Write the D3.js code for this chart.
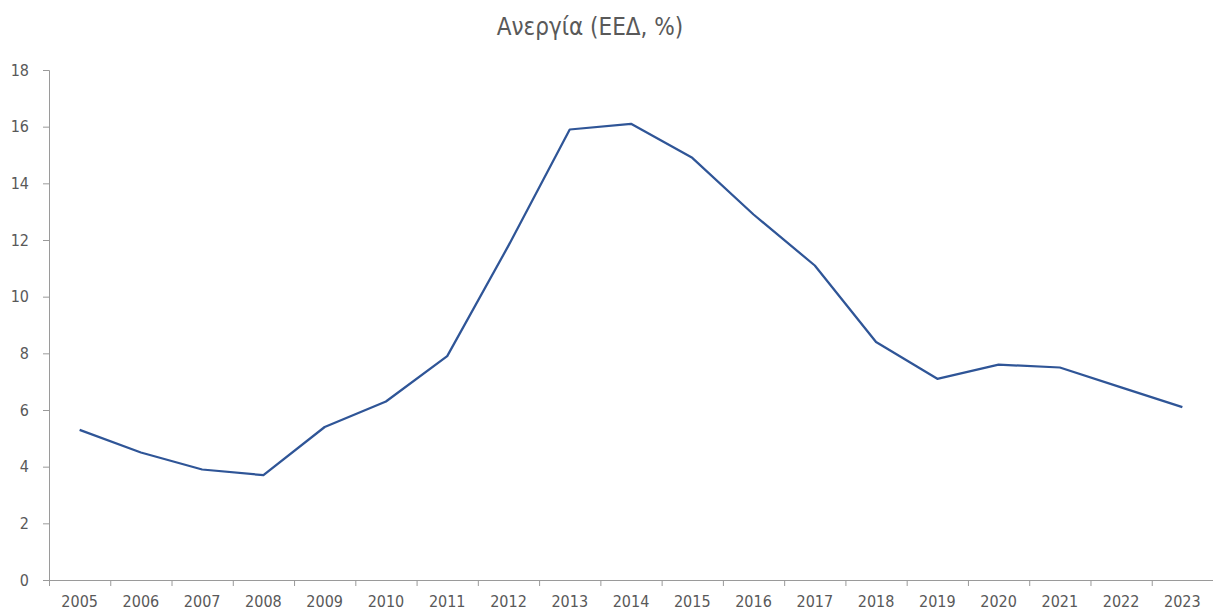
<!DOCTYPE html>
<html>
<head>
<meta charset="utf-8">
<script src="https://cdn.jsdelivr.net/npm/d3@7"></script>
<style>
  body { margin: 0; background: #fff; overflow: hidden; }
  svg { display: block; }
  .axis text { font-family: 'DejaVu Sans Condensed', 'Liberation Sans Narrow', sans-serif; font-size: 16px; fill: #595959; }
  .axis path, .axis line { stroke: #9a9a9a; }
  .chart-title { font-family: 'DejaVu Sans Condensed', sans-serif; font-size: 24px; fill: #595959; }
</style>
</head>
<body>
<div class="chart-container"></div>
<script>
const years = ['2005','2006','2007','2008','2009','2010','2011','2012','2013','2014','2015','2016','2017','2018','2019','2020','2021','2022','2023'];
const unemployment = [5.3, 4.5, 3.9, 3.7, 5.4, 6.3, 7.9, 11.8, 15.9, 16.1, 14.9, 12.9, 11.1, 8.4, 7.1, 7.6, 7.5, 6.8, 6.1];
const yTicks = [0, 2, 4, 6, 8, 10, 12, 14, 16, 18];
const title = 'Ανεργία (ΕΕΔ, %)';

const width = 1213;
const height = 614;
const margin = { top: 70, right: 0, bottom: 34, left: 49 };
const innerWidth = width - margin.left - margin.right;
const innerHeight = height - margin.top - margin.bottom;

const svg = d3.select('.chart-container')
  .append('svg')
  .attr('width', width)
  .attr('height', height);

svg.append('text')
  .attr('class', 'chart-title')
  .attr('x', 590)
  .attr('y', 35)
  .attr('text-anchor', 'middle')
  .text(title);

const g = svg.append('g')
  .attr('transform', `translate(${margin.left},${margin.top})`);

const xScale = d3.scaleBand()
  .domain(years)
  .range([0, innerWidth]);

const yScale = d3.scaleLinear()
  .domain([0, 18])
  .range([innerHeight, 0]);

// y axis
g.append('g')
  .attr('class', 'axis')
  .call(d3.axisLeft(yScale).tickValues(yTicks).tickSize(6).tickPadding(14).tickFormat(d3.format('d')));

// x axis, ticks on the band boundaries
const xAxis = g.append('g')
  .attr('class', 'axis')
  .attr('transform', `translate(0,${innerHeight})`)
  .call(d3.axisBottom(xScale).tickSize(0).tickPadding(16));
xAxis.select('.domain').attr('d', `M0,0.5H${innerWidth}`);

xAxis.selectAll('.boundary')
  .data(years)
  .enter()
  .append('line')
  .attr('class', 'boundary')
  .attr('x1', d => xScale(d) + 0.5)
  .attr('x2', d => xScale(d) + 0.5)
  .attr('y1', 0)
  .attr('y2', 6);

// line
const line = d3.line()
  .x((d, i) => xScale(years[i]) + xScale.bandwidth() / 2)
  .y(d => yScale(d));

g.append('path')
  .datum(unemployment)
  .attr('fill', 'none')
  .attr('stroke', '#2f5597')
  .attr('stroke-width', 2.25)
  .attr('stroke-linejoin', 'round')
  .attr('d', line);
</script>
</body>
</html>
